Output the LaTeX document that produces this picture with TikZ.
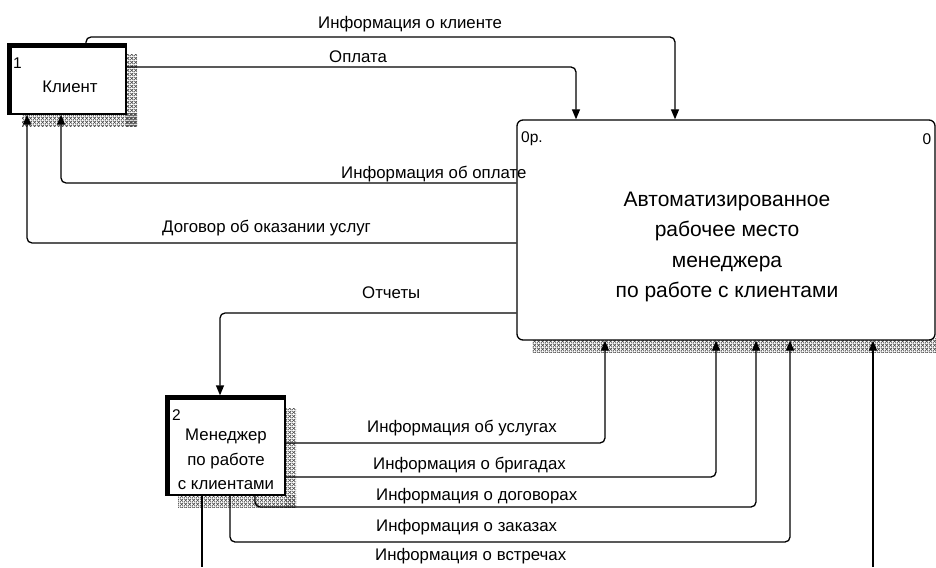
\documentclass[tikz,border=0pt]{standalone}
\usepackage{fontspec}
\setmainfont{Liberation Sans}
\usetikzlibrary{arrows.meta,patterns.meta}

% cross-hatch used for the box shadows
\tikzdeclarepattern{
  name=idefshade,
  type=uncolored,
  bounding box={(0pt,0pt) and (3.6pt,3.6pt)},
  tile size={(3.6pt,3.6pt)},
  code={
    \draw[line width=0.7pt] (0pt,0pt) -- (3.6pt,3.6pt);
    \draw[line width=0.7pt] (0pt,3.6pt) -- (3.6pt,0pt);
  }
}

\begin{document}
\begin{tikzpicture}[x=1pt,y=-1pt,
  conn/.style={line width=1.3pt, rounded corners=5pt},
  arr/.style={conn, -{Triangle[width=8pt,length=10pt]}},
  lbl/.style={anchor=west, inner sep=0pt, font=\fontsize{16.8}{19}\selectfont},
  num/.style={inner sep=0pt, font=\fontsize{15.5}{17}\selectfont},
  shade/.style={pattern=idefshade, pattern color=black!70},
  box/.style={draw, line width=1.3pt, fill=white, inner sep=0pt},
  thickedge/.style={line width=4.5pt},
]
\useasboundingbox (0,0) rectangle (936,567);

% shadows behind the boxes
\fill[shade] (126,55) rectangle (137,126);
\fill[shade] (22,114) rectangle (137,126);
\fill[shade] (532,338) rectangle (936,352);
\fill[shade] (285,408) rectangle (296,507);
\fill[shade] (178,495) rectangle (296,507);

% boxes
\node[box, minimum width=118pt, minimum height=70pt] (client) at (67,79) {};
\draw[thickedge] ([xshift=2.2pt]client.south west) -- ([xshift=2.2pt,yshift=-2.2pt]client.north west) -- ([yshift=-2.2pt]client.north east);
\node[num] (clientnum) at (17.5,63) {1};
\node[inner sep=0pt, font=\fontsize{16.8}{19}\selectfont] (clienttxt) at (70,87) {Клиент};

\node[box, rounded corners=6pt, minimum width=418pt, minimum height=220pt] (main) at (726,230) {};
\node[num, anchor=west] (mainnum) at (521,139) {0р.};
\node[num] (mainid) at (927,139) {0};
\node[inner sep=0pt, align=center, font=\fontsize{21}{30.5}\selectfont] (maintxt) at (727,247)
  {Автоматизированное\\рабочее место\\менеджера\\по работе с клиентами};

\node[box, minimum width=119pt, minimum height=99pt] (mgr) at (225.5,445.5) {};
\draw[thickedge] ([xshift=2.2pt]mgr.south west) -- ([xshift=2.2pt,yshift=-2.2pt]mgr.north west) -- ([yshift=-2.2pt]mgr.north east);
\node[num] (mgrnum) at (176.5,415) {2};
\node[inner sep=0pt, align=center, font=\fontsize{16.8}{24.5}\selectfont] (mgrtxt) at (226,459.5)
  {Менеджер\\по работе\\с клиентами};

% free ends at the lower edge
\coordinate (meetL) at (202,567);
\coordinate (meetR) at (873,567);

% connectors between client and the main box
\draw[arr] (86,0 |- client.north) -- (86,37) -- (675,37) -- (675,0 |- main.north);
\draw[arr] (client.east |- 0,67) -- (576,67) -- (576,0 |- main.north);
\draw[arr] (main.west |- 0,183) -- (61,183) -- (61,0 |- client.south);
\draw[arr] (main.west |- 0,243) -- (27,243) -- (27,0 |- client.south);

% reports to the manager
\draw[arr] (main.west |- 0,313) -- (220,313) -- (220,0 |- mgr.north);

% manager outputs into the main box
\draw[arr] (mgr.east |- 0,443) -- (605,443) -- (605,0 |- main.south);
\draw[arr] (mgr.east |- 0,477) -- (716,477) -- (716,0 |- main.south);
\draw[arr] (255,0 |- mgr.south) -- (255,507) -- (756,507) -- (756,0 |- main.south);
\draw[arr] (230,0 |- mgr.south) -- (230,542) -- (790,542) -- (790,0 |- main.south);
\draw[conn] (202,0 |- mgr.south) -- (meetL);
\draw[arr] (meetR) -- (873,0 |- main.south);

% labels
\node[lbl] (l1) at (318,24) {Информация о клиенте};
\node[lbl] (l2) at (329,57) {Оплата};
\node[lbl] (l3) at (341,174) {Информация об оплате};
\node[lbl] (l4) at (162,228) {Договор об оказании услуг};
\node[lbl] (l5) at (362,293) {Отчеты};
\node[lbl] (l6) at (367,428) {Информация об услугах};
\node[lbl] (l7) at (373,465) {Информация о бригадах};
\node[lbl] (l8) at (376,496) {Информация о договорах};
\node[lbl] (l9) at (376,527) {Информация о заказах};
\node[lbl] (l10) at (375,556) {Информация о встречах};
\end{tikzpicture}
\end{document}
